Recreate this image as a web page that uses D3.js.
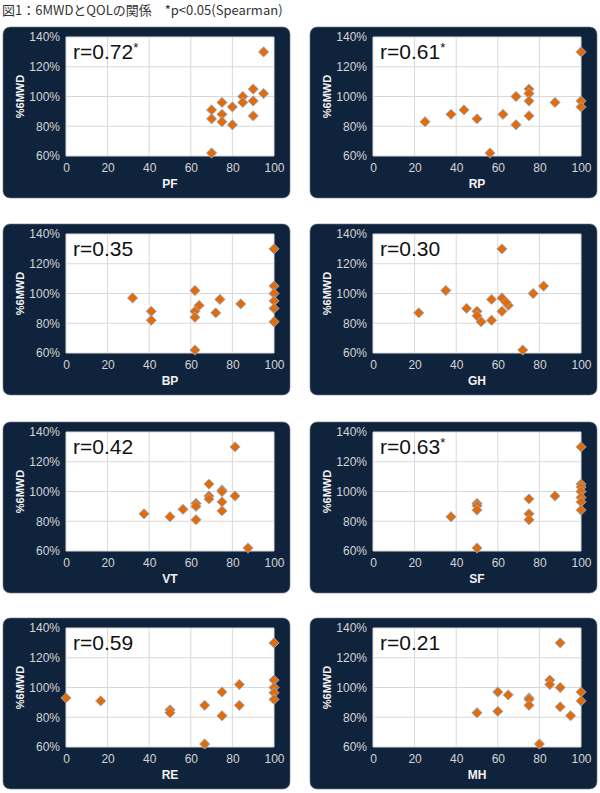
<!DOCTYPE html>
<html><head><meta charset="utf-8">
<script src="https://cdn.jsdelivr.net/npm/d3@7"></script>
<style>
html,body{margin:0;padding:0;background:#fff;}
svg{display:block;}
</style></head>
<body>
<script>
const titleText = "図1：6MWDとQOLの関係　*p<0.05(Spearman)";
const panelNames = ["PF","RP","BP","GH","VT","SF","RE","MH"];
const rLabels = ["r=0.72","r=0.61","r=0.35","r=0.30","r=0.42","r=0.63","r=0.59","r=0.21"];
const rSig = [true,true,false,false,false,true,false,false];
const xTicks = [0,20,40,60,80,100];
const yTicks = [0.6,0.8,1.0,1.2,1.4];
const yAxisTitle = "%6MWD";

const pfX = [95,70,70,70,75,75,75,80,80,85,85,90,90,90,95];
const pfY = [130,91,85,62,96,88,83,93,81,100,96,105,97,87,102];
const rpX = [25,37.5,43.75,50,56.25,62.5,68.75,68.75,75,75,75,75,87.5,100,100,100];
const rpY = [83,88,91,85,62,88,100,81,105,102,97,87,96,130,97,93];
const bpX = [32,41,41,62,62,62,62,64,72,74,84,100,100,100,100,100,100];
const bpY = [97,88,82,102,88,84,62,92,87,96,93,130,105,100,95,90,81];
const ghX = [22,35,45,50,50,52,57,57,62,62,62,65,64,72,77,82];
const ghY = [87,102,90,88,85,81,96,82,130,97,88,92,94,62,100,105];
const vtX = [37.5,50,56.25,62.5,62.5,62.5,68.75,68.75,68.75,75,75,75,75,81.25,81.25,87.5];
const vtY = [85,83,88,92,90,81,105,97,95,101,100,93,87,130,97,62];
const sfX = [37.5,50,50,50,50,75,75,75,87.5,100,100,100,100,100,100,100];
const sfY = [83,92,90.5,87.5,62,95,85,81,97,130,105,103,100,96,93,87.5];
const reX = [0,16.67,50,50,66.67,66.67,75,75,83.33,83.33,100,100,100,100,100];
const reY = [93,91,85,83,88,62,97,81,102,88,130,105,100,96.5,92];
const mhX = [50,60,60,65,75,75,75,80,85,85,90,90,90,95,100,100];
const mhY = [83,97,84,95,93,92,88,62,105,102,130,100,87,81,97,91];

const seriesX = [pfX,rpX,bpX,ghX,vtX,sfX,reX,mhX];
const seriesY = [pfY,rpY,bpY,ghY,vtY,sfY,reY,mhY];

const W = 600, H = 793;
const FONT = "Arial, 'Liberation Sans', sans-serif";
const svg = d3.select("body").append("svg").attr("width",W).attr("height",H);

svg.append("text").attr("x",2).attr("y",15)
  .attr("font-family","'Noto Sans CJK JP', sans-serif").attr("font-size",13)
  .attr("fill","#333").text(titleText);

const colX = [3,310], panelW = 287;
const rowY = [27,224,422,618], panelH = 171;
const plotL = 63, plotT = 10, plotW = 208, plotH = 119;

panelNames.forEach((name,i)=>{
  const col = i%2, row = Math.floor(i/2);
  const g = svg.append("g").attr("transform",`translate(${colX[col]},${rowY[row]})`);
  g.append("rect").attr("width",panelW).attr("height",panelH).attr("rx",7)
    .attr("fill","#10233d").attr("stroke","#6c7a8a").attr("stroke-width",0.6);
  const x = d3.scaleLinear().domain([0,100]).range([0,plotW]);
  const y = d3.scaleLinear().domain([0.6,1.4]).range([plotH,0]);
  const p = g.append("g").attr("transform",`translate(${plotL},${plotT})`);
  p.append("rect").attr("width",plotW).attr("height",plotH).attr("fill","#fff");
  // grid
  p.append("g").selectAll("line.v").data(xTicks).join("line")
    .attr("x1",d=>x(d)).attr("x2",d=>x(d)).attr("y1",0).attr("y2",plotH)
    .attr("stroke","#d9d9d9").attr("stroke-width",1);
  p.append("g").selectAll("line.h").data(yTicks).join("line")
    .attr("y1",d=>y(d)).attr("y2",d=>y(d)).attr("x1",0).attr("x2",plotW)
    .attr("stroke","#d9d9d9").attr("stroke-width",1);
  // axes
  const xa = p.append("g").attr("transform",`translate(0,${plotH})`)
    .call(d3.axisBottom(x).tickValues(xTicks).tickSize(0).tickPadding(7));
  const ya = p.append("g").call(d3.axisLeft(y).tickValues(yTicks).tickSize(0).tickPadding(6)
    .tickFormat(d3.format(".0%")));
  [xa,ya].forEach(a=>{
    a.select(".domain").remove();
    a.selectAll("text").attr("fill","#d4d4d4").attr("font-family",FONT).attr("font-size",12);
  });
  // axis titles
  g.append("text").attr("x",plotL+plotW/2).attr("y",plotT+plotH+32)
    .attr("text-anchor","middle").attr("font-family",FONT)
    .attr("font-weight","bold").attr("font-size",12).attr("fill","#f2f2f2").text(name);
  g.append("text").attr("transform",`translate(21,${plotT+plotH/2}) rotate(-90)`)
    .attr("text-anchor","middle").attr("font-family",FONT)
    .attr("font-weight","bold").attr("font-size",11).attr("fill","#f2f2f2").text(yAxisTitle);
  // r label
  const t = p.append("text").attr("x",7).attr("y",22)
    .attr("font-family",FONT).attr("font-size",21).attr("fill","#111");
  t.append("tspan").text(rLabels[i]);
  if(rSig[i]) t.append("tspan").attr("font-size",13).attr("dy",-7).text("*");
  // points
  const pts = seriesX[i].map((v,k)=>({x:v,y:seriesY[i][k]/100}));
  const sym = d3.symbol().type(d3.symbolDiamond2).size(68);
  p.append("g").selectAll("path").data(pts).join("path")
    .attr("transform",d=>`translate(${x(d.x)},${y(d.y)})`)
    .attr("d",sym).attr("fill","#e36c0a").attr("stroke","#8eb4e3").attr("stroke-width",0.8);
});
</script>
</body></html>
